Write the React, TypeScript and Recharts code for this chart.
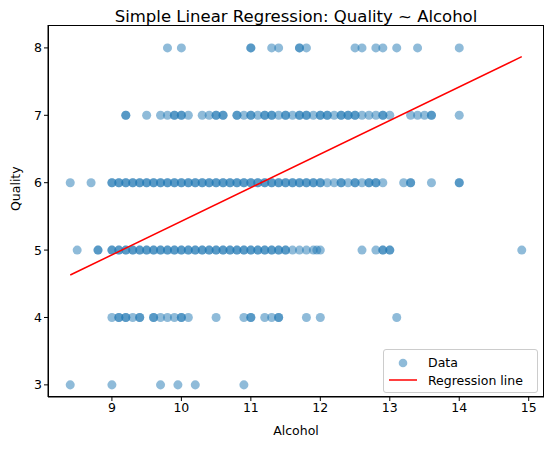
import { ScatterChart, Scatter, XAxis, YAxis, ZAxis } from "recharts"

// alcohol values per quality level (repeats = overlapping points)
const alcoholQ3 = [8.4, 9.0, 9.7, 9.95, 10.2, 10.9]
const alcoholQ4 = [9.0, 9.1, 9.1, 9.2, 9.2, 9.3, 9.4, 9.4, 9.6, 9.6, 9.7, 9.8, 9.9, 10.0, 10.0, 10.1, 10.5, 10.9, 11.0, 11.0, 11.2, 11.3, 11.4, 11.4, 11.8, 12.0, 13.1]
const alcoholQ5 = [
  8.5, 8.8, 8.8,
  9.0, 9.0, 9.1, 9.1, 9.2, 9.2, 9.3, 9.3, 9.4, 9.4, 9.5, 9.5, 9.6, 9.6, 9.7, 9.7, 9.8, 9.8, 9.9, 9.9,
  10.0, 10.0, 10.1, 10.1, 10.2, 10.2, 10.3, 10.3, 10.4, 10.4, 10.5, 10.5, 10.6, 10.6, 10.7, 10.7, 10.8, 10.8, 10.9, 10.9,
  11.0, 11.0, 11.1, 11.1, 11.2, 11.2, 11.3, 11.3, 11.4, 11.4, 11.5, 11.5,
  11.6, 11.7, 11.8, 11.9, 11.95, 12.0, 12.6, 12.8, 12.9, 12.9, 13.0, 13.0, 14.9,
]
const alcoholQ6 = [
  8.4, 8.7,
  9.0, 9.0, 9.1, 9.1, 9.2, 9.2, 9.3, 9.3, 9.4, 9.4, 9.5, 9.5, 9.6, 9.6, 9.7, 9.7, 9.8, 9.8, 9.9, 9.9,
  10.0, 10.0, 10.1, 10.1, 10.2, 10.2, 10.3, 10.3, 10.4, 10.4, 10.5, 10.5, 10.6, 10.6, 10.7, 10.7, 10.8, 10.8, 10.9, 10.9,
  11.0, 11.0, 11.1, 11.1, 11.2, 11.2, 11.3, 11.3, 11.4, 11.4, 11.5, 11.5, 11.6, 11.6, 11.7, 11.7, 11.8, 11.8, 11.9, 11.9, 12.0, 12.0,
  12.1, 12.2, 12.3, 12.3, 12.4, 12.5, 12.5, 12.6, 12.7, 12.7, 12.8, 12.8, 12.9, 13.2, 13.3, 13.3, 13.6, 14.0, 14.0,
]
const alcoholQ7 = [
  9.2, 9.2, 9.5, 9.7, 9.8, 9.9, 9.9, 10.0, 10.0, 10.1, 10.3, 10.4, 10.5, 10.5, 10.6, 10.6, 10.8, 10.8, 10.9, 11.0, 11.0,
  11.1, 11.2, 11.2, 11.3, 11.3, 11.4, 11.5, 11.5, 11.6, 11.7, 11.7, 11.8, 11.8, 11.9, 12.0, 12.0, 12.1, 12.1, 12.2,
  12.3, 12.3, 12.4, 12.4, 12.5, 12.5, 12.6, 12.7, 12.8, 12.9, 12.9, 13.0, 13.3, 13.4, 13.5, 13.6, 13.6, 14.0,
]
const alcoholQ8 = [9.8, 10.0, 11.0, 11.0, 11.3, 11.4, 11.7, 11.7, 11.8, 12.5, 12.6, 12.8, 12.9, 13.1, 13.4, 14.0]

const regressionX = [8.4, 14.9]
const regressionY = [4.63, 7.87]

const xTicks = [9, 10, 11, 12, 13, 14, 15]
const yTicks = [3, 4, 5, 6, 7, 8]

const scatterData = [
  ...alcoholQ3.map(x => ({ x, y: 3 })),
  ...alcoholQ4.map(x => ({ x, y: 4 })),
  ...alcoholQ5.map(x => ({ x, y: 5 })),
  ...alcoholQ6.map(x => ({ x, y: 6 })),
  ...alcoholQ7.map(x => ({ x, y: 7 })),
  ...alcoholQ8.map(x => ({ x, y: 8 })),
]
const lineData = regressionX.map((x, i) => ({ x, y: regressionY[i] }))

const FONT = "DejaVu Sans, sans-serif"
const BLUE = "#1f77b4"

function LegendBox() {
  return (
    <div style={{ position: "absolute", left: 383, top: 349, width: 155, height: 44, border: "1px solid #ccc", borderRadius: 3, background: "rgba(255,255,255,0.8)", fontFamily: FONT, fontSize: 12.5, color: "#000", boxSizing: "border-box", padding: "3px 4px" }}>
      <div style={{ display: "flex", alignItems: "center", height: 18 }}>
        <svg width={30} height={12}><circle cx={15} cy={7} r={4.3} fill={BLUE} fillOpacity={0.5} /></svg>
        <span style={{ marginLeft: 10 }}>Data</span>
      </div>
      <div style={{ display: "flex", alignItems: "center", height: 18 }}>
        <svg width={30} height={12}><line x1={1} x2={29} y1={6} y2={6} stroke="red" strokeWidth={1.5} /></svg>
        <span style={{ marginLeft: 10 }}>Regression line</span>
      </div>
    </div>
  )
}

export default function App() {
  return (
    <div style={{ position: "absolute", left: 0, top: 0, width: 554, height: 455, background: "#fff", fontFamily: FONT }}>
      <div style={{ position: "absolute", top: 7, width: 496, left: 48, textAlign: "center", fontSize: 16.5 }}>
        Simple Linear Regression: Quality ~ Alcohol
      </div>
      <ScatterChart width={554} height={455} margin={{ top: 25, right: 10, bottom: 18, left: 10 }}>
        <XAxis type="number" dataKey="x" domain={[8.08, 15.22]} ticks={xTicks} height={40} tickSize={4}
          stroke="#000" tick={{ fill: "#000", fontSize: 12.5, fontFamily: FONT }} allowDataOverflow
          label={{ value: "Alcohol", position: "insideBottom", offset: 2, fill: "#000", fontSize: 12.5, fontFamily: FONT }} />
        <YAxis type="number" dataKey="y" domain={[2.82, 8.34]} ticks={yTicks} width={38} tickSize={4}
          stroke="#000" tick={{ fill: "#000", fontSize: 12.5, fontFamily: FONT }} allowDataOverflow
          label={{ value: "Quality", angle: -90, position: "insideLeft", offset: 6, fill: "#000", fontSize: 12.5, fontFamily: FONT }} />
        <ZAxis range={[58, 58]} />
        <Scatter name="Data" data={scatterData} fill={BLUE} fillOpacity={0.5} isAnimationActive={false} />
        <Scatter name="Regression line" data={lineData} line={{ stroke: "red", strokeWidth: 1.5 }} shape={() => null} isAnimationActive={false} />
      </ScatterChart>
      <div style={{ position: "absolute", left: 48, top: 25, width: 496, height: 372, border: "1px solid #000", boxSizing: "border-box", pointerEvents: "none" }} />
      <LegendBox />
    </div>
  )
}
